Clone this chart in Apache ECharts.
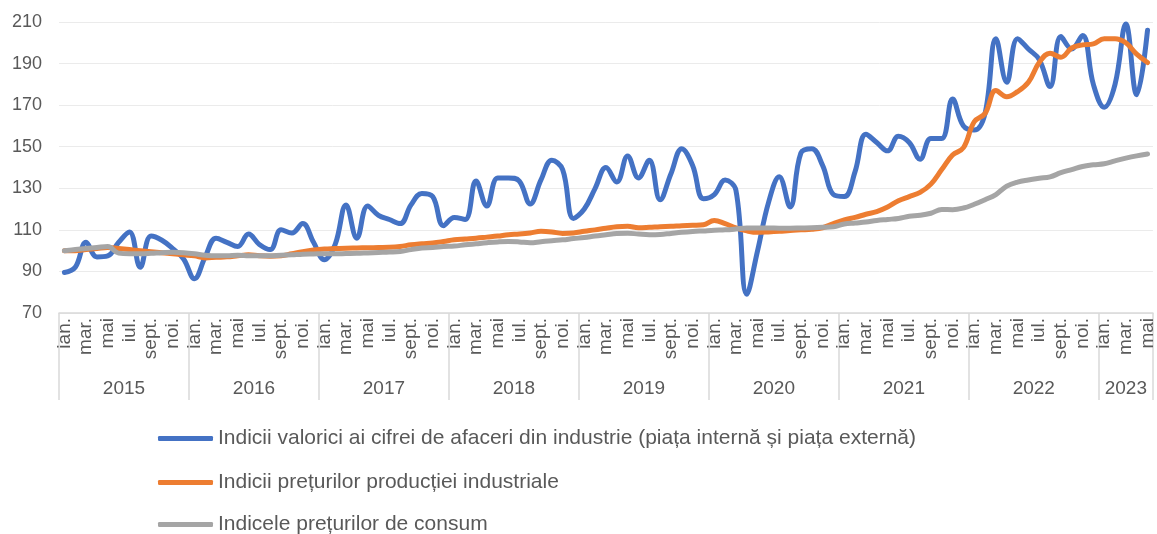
<!DOCTYPE html>
<html>
<head>
<meta charset="utf-8">
<script src="https://cdn.jsdelivr.net/npm/echarts@6/dist/echarts.min.js"></script>
<style>
html,body{margin:0;padding:0;background:#fff;}
#chart{width:1157px;height:534px;}
</style>
</head>
<body>
<div id="chart"></div>
<script>
const years = ['2015','2016','2017','2018','2019','2020','2021','2022','2023'];
const monthNames = ['ian.','feb.','mar.','apr.','mai','iun.','iul.','aug.','sept.','oct.','noi.','dec.'];
const seriesNames = [
  'Indicii valorici ai cifrei de afaceri din industrie (piața internă și piața externă)',
  'Indicii prețurilor producției industriale',
  'Indicele prețurilor de consum'
];
const yTicks = {min: 70, max: 210, interval: 20};

const turnover = [
  89.5, 92, 104, 97, 97.5, 104, 109, 92, 107, 105, 101, 96,
  86.5, 97, 106, 104, 102, 108, 103, 100.5, 110, 108.5, 113, 104,
  95.6, 103, 122, 106, 121.5, 117, 115, 113, 122, 127.5, 126, 112,
  116, 115, 133.5, 121.5, 135, 135, 133.5, 122.5, 134, 143.5, 139, 115.5,
  120, 130, 140, 133, 145.5, 135, 143.5, 124.5, 137, 149, 141, 125,
  127, 134, 129, 79, 100, 123, 135.5, 121, 147, 149, 141, 127,
  126, 138, 156, 152, 148, 155, 152, 144, 154, 154, 173, 160,
  158, 166, 202, 181, 202, 197, 192, 179, 203, 197, 203.5, 180,
  169, 180, 209, 175, 206
];
const ppi = [
  100, 100, 100.5, 101, 101.5, 101, 100.5, 100, 99.5, 99, 98.5, 98,
  97.5, 96.5, 96.8, 97, 97.5, 98, 97.5, 97.3, 97.5, 98.5, 99.5, 100.3,
  100.8, 101, 101.2, 101.3, 101.4, 101.5, 101.6, 102, 102.8, 103.3, 103.7, 104.4,
  105.2, 105.6, 106, 106.5, 107, 107.7, 108, 108.5, 109.3, 109, 108.3, 108.5,
  109.3, 110, 110.8, 111.5, 111.7, 111, 111.2, 111.5, 111.7, 112, 112.2, 112.5,
  114.5, 113, 110.9, 109.5, 108.8, 109, 109.3, 109.7, 110, 110.3, 111, 113,
  114.8, 116, 117.5, 118.8, 121, 124, 126, 128, 132, 139, 146, 149.5,
  162, 166, 177, 174, 176.5, 181, 190.5, 195, 193, 197.5, 199, 199.5,
  202, 202, 200, 194.5, 190.5
];
const cpi = [
  100, 100.5, 101, 101.5, 102, 98.8, 98.5, 98.5, 98.7, 99, 99.2, 99,
  98.5, 97.8, 97.5, 97.5, 97.8, 97.6, 97.5, 97.5, 97.8, 98, 98.3, 98.4,
  98.5, 98.5, 98.6, 98.7, 98.9, 99.1, 99.3, 99.6, 100.5, 101.3, 101.5, 102,
  102.2, 102.8, 103.3, 103.8, 104.2, 104.4, 104.2, 103.8, 104.3, 104.8, 105.2, 105.8,
  106.3, 107, 107.6, 108.2, 108.4, 108, 107.7, 107.8, 108.3, 108.8, 109.2, 109.5,
  109.8, 110, 110.4, 110.9, 110.9, 110.9, 110.8, 110.8, 110.9, 111, 111.2, 111.5,
  112.8, 113.3, 113.8, 114.5, 115, 115.5, 116.5, 117, 118, 119.8, 119.7, 120.5,
  122.3, 124.5, 127, 131, 133, 134, 134.8, 135.5, 137.5, 139, 140.5, 141.3,
  141.8, 143.2, 144.5, 145.6, 146.5
];
const colors = ['#4472C4', '#ED7D31', '#A5A5A5'];

const n = turnover.length;
const categories = [];
for (let i = 0; i < n; i++) categories.push(monthNames[i % 12]);
const yearStarts = [], yearCenters = [];
years.forEach((y, k) => {
  const s = k * 12;
  const cnt = Math.min(12, n - s);
  yearStarts.push(s);
  yearCenters.push(s + cnt / 2);
});
yearStarts.push(n);

const font = 'Liberation Sans, Arial, sans-serif';
const textColor = '#595959';
const legendTops = [428, 472, 514];
const chart = echarts.init(document.getElementById('chart'));
chart.setOption({
  animation: false,
  color: colors,
  grid: {left: 59, right: 0, top: 22, bottom: 221, containLabel: false},
  legend: seriesNames.map((name, i) => ({
    orient: 'horizontal', left: 158, top: legendTops[i], padding: 0,
    itemWidth: 55, itemHeight: 5, icon: 'roundRect',
    textStyle: {fontFamily: font, fontSize: 21, color: textColor, padding: [0, 0, 0, 0]},
    data: [name]
  })),
  xAxis: [{
    type: 'category', data: categories, boundaryGap: true,
    axisLine: {show: true, lineStyle: {color: '#d9d9d9', width: 1.5}},
    axisTick: {show: false},
    axisLabel: {interval: 1, rotate: 90, fontFamily: font, fontSize: 19, color: textColor, margin: 5}
  }, {
    type: 'value', min: 0, max: n, position: 'bottom',
    axisLine: {show: false},
    splitLine: {show: false},
    axisTick: {show: true, customValues: yearStarts, length: 87, inside: false,
      lineStyle: {color: '#d9d9d9', width: 1.5}},
    axisLabel: {customValues: yearCenters, margin: 66, fontFamily: font, fontSize: 19, color: textColor,
      formatter: function (v) {
        const k = yearCenters.findIndex(c => Math.abs(c - v) < 1e-6);
        return k >= 0 ? years[k] : '';
      }}
  }],
  yAxis: {
    type: 'value', min: yTicks.min, max: yTicks.max, interval: yTicks.interval,
    axisLine: {show: false}, axisTick: {show: false},
    splitLine: {lineStyle: {color: '#ebebeb', width: 1}},
    axisLabel: {fontFamily: font, fontSize: 18, color: textColor, margin: 17}
  },
  series: [
    {name: seriesNames[0], type: 'line', data: turnover, smooth: 0.4, symbol: 'none', lineStyle: {width: 5, cap: 'round'}, z: 3},
    {name: seriesNames[1], type: 'line', data: ppi, smooth: 0.4, symbol: 'none', lineStyle: {width: 5, cap: 'round'}, z: 4},
    {name: seriesNames[2], type: 'line', data: cpi, smooth: 0.4, symbol: 'none', lineStyle: {width: 5, cap: 'round'}, z: 5}
  ]
});
</script>
</body>
</html>
